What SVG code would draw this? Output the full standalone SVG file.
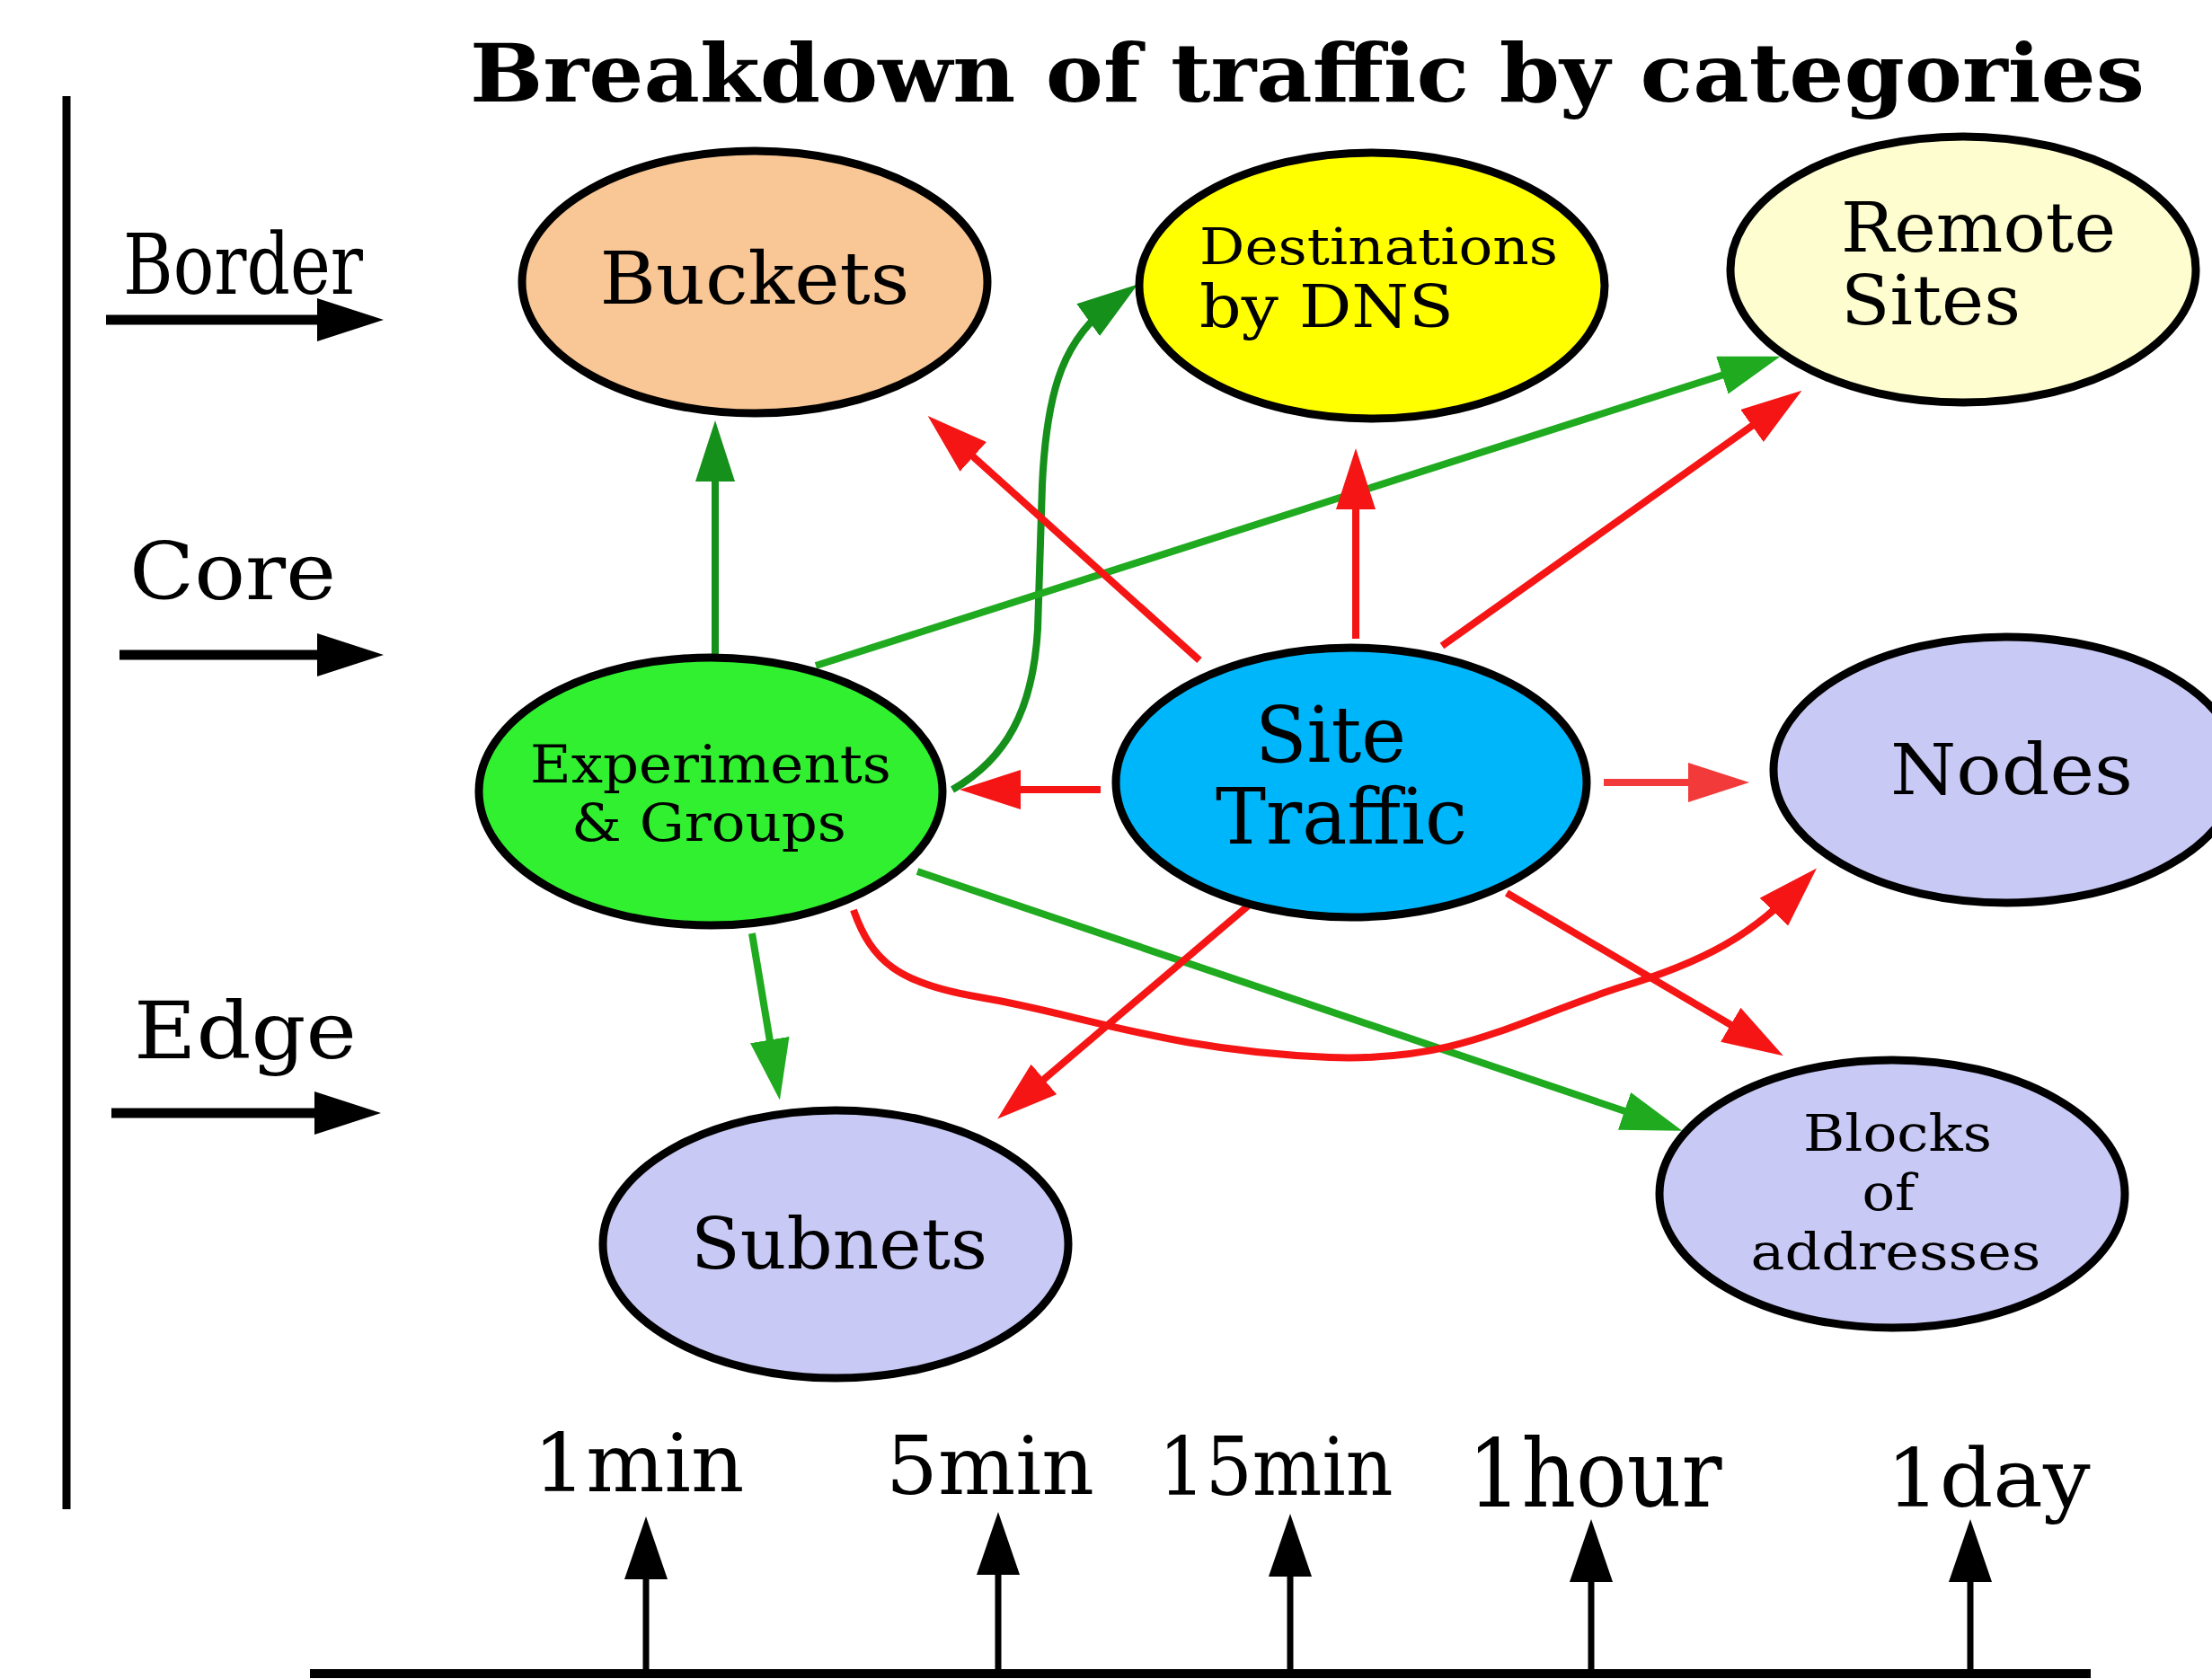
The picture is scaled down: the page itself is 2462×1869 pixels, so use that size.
<svg xmlns="http://www.w3.org/2000/svg" width="2462" height="1869" viewBox="0 0 2462 1869">
<style>
.t{font-family:"DejaVu Serif","Liberation Serif",serif;fill:#000}
.node{stroke:#000;stroke-width:9}
.red{fill:none;stroke:#f51515;stroke-width:8}
.grn{fill:none;stroke:#1faa1f;stroke-width:8}
.dgrn{fill:none;stroke:#15901a;stroke-width:8}
.blk{fill:none;stroke:#000}
</style>
<defs>
<marker id="mr" markerUnits="userSpaceOnUse" viewBox="0 0 68 44" markerWidth="68" markerHeight="44" refX="38" refY="22" orient="auto"><path d="M0,0 L68,22 L0,44 z" fill="#f51515"/></marker>
<marker id="mrl" markerUnits="userSpaceOnUse" viewBox="0 0 68 44" markerWidth="68" markerHeight="44" refX="38" refY="22" orient="auto"><path d="M0,0 L68,22 L0,44 z" fill="#f23a3a"/></marker>
<marker id="mg" markerUnits="userSpaceOnUse" viewBox="0 0 68 44" markerWidth="68" markerHeight="44" refX="38" refY="22" orient="auto"><path d="M0,0 L68,22 L0,44 z" fill="#1faa1f"/></marker>
<marker id="mdg" markerUnits="userSpaceOnUse" viewBox="0 0 68 44" markerWidth="68" markerHeight="44" refX="38" refY="22" orient="auto"><path d="M0,0 L68,22 L0,44 z" fill="#15901a"/></marker>
<marker id="mb" markerUnits="userSpaceOnUse" viewBox="0 0 74 48" markerWidth="74" markerHeight="48" refX="44" refY="24" orient="auto"><path d="M0,0 L74,24 L0,48 z" fill="#000"/></marker>
<marker id="mt" markerUnits="userSpaceOnUse" viewBox="0 0 70 48" markerWidth="70" markerHeight="48" refX="40" refY="24" orient="auto"><path d="M0,0 L70,24 L0,48 z" fill="#000"/></marker>
</defs>
<rect width="2462" height="1869" fill="#fff"/>

<g id="title">
<text class="t" x="523" y="113" font-size="90" font-weight="bold" textLength="1864" lengthAdjust="spacingAndGlyphs">Breakdown of traffic by categories</text>
</g>

<g id="levels">
<line class="blk" x1="74" y1="107" x2="74" y2="1680" stroke-width="9"/>
<text class="t" x="137" y="327" font-size="94" textLength="267" lengthAdjust="spacingAndGlyphs">Border</text>
<line class="blk" x1="118" y1="356" x2="397" y2="356" stroke-width="11" marker-end="url(#mb)"/>
<text class="t" x="144" y="667" font-size="88" textLength="230" lengthAdjust="spacingAndGlyphs">Core</text>
<line class="blk" x1="133" y1="729" x2="397" y2="729" stroke-width="11" marker-end="url(#mb)"/>
<text class="t" x="149" y="1178" font-size="88" textLength="248" lengthAdjust="spacingAndGlyphs">Edge</text>
<line class="blk" x1="124" y1="1239" x2="394" y2="1239" stroke-width="11" marker-end="url(#mb)"/>
</g>

<g id="connectors">
<line class="dgrn" x1="796" y1="730" x2="796" y2="498" marker-end="url(#mdg)"/>
<path class="dgrn" d="M1060 879 C1120 845,1150 790,1155 700 L1160 540 C1165 430,1185 375,1242 334" marker-end="url(#mdg)"/>
<line class="grn" x1="908" y1="741" x2="1953" y2="406" marker-end="url(#mg)"/>
<line class="grn" x1="837" y1="1039" x2="863" y2="1195" marker-end="url(#mg)"/>
<line class="grn" x1="1021" y1="970" x2="1844" y2="1249" marker-end="url(#mg)"/>
<line class="red" x1="1225" y1="879" x2="1098" y2="879" marker-end="url(#mr)"/>
<line class="red" x1="1335" y1="735" x2="1055" y2="483" marker-end="url(#mr)"/>
<line class="red" x1="1509" y1="711" x2="1509" y2="529" marker-end="url(#mr)"/>
<line class="red" x1="1605" y1="719" x2="1981" y2="452" marker-end="url(#mr)"/>
<line class="red" x1="1785" y1="871" x2="1917" y2="871" marker-end="url(#mrl)" style="stroke:#f23a3a"/>
<line class="red" x1="1393" y1="1005" x2="1133" y2="1226" marker-end="url(#mr)"/>
<line class="red" x1="1677" y1="994" x2="1959" y2="1160" marker-end="url(#mr)"/>
<path class="red" d="M950 1013 C970 1070,1000 1095,1090 1110 C1200 1128,1300 1170,1480 1177 C1620 1182,1680 1140,1800 1100 C1900 1070,1950 1040,2001 988" marker-end="url(#mr)"/>
</g>

<g id="buckets">
<ellipse class="node" cx="840" cy="314" rx="259" ry="146" fill="#f9c795"/>
<text class="t" x="840" y="338" font-size="80" text-anchor="middle" textLength="345" lengthAdjust="spacingAndGlyphs">Buckets</text>
</g>
<g id="dns">
<ellipse class="node" cx="1527" cy="318" rx="259" ry="148" fill="#ffff00"/>
<text class="t" x="1335" y="294" font-size="56" textLength="399" lengthAdjust="spacingAndGlyphs">Destinations</text>
<text class="t" x="1335" y="364" font-size="66" textLength="283" lengthAdjust="spacingAndGlyphs">by DNS</text>
</g>
<g id="remote">
<ellipse class="node" cx="2185" cy="300" rx="259" ry="148" fill="#fdfdd0"/>
<text class="t" x="2049" y="280" font-size="76" textLength="306" lengthAdjust="spacingAndGlyphs">Remote</text>
<text class="t" x="2049" y="361" font-size="76" textLength="200" lengthAdjust="spacingAndGlyphs">Sites</text>
</g>
<g id="experiments">
<ellipse class="node" cx="791" cy="881" rx="258" ry="149" fill="#30f030"/>
<text class="t" x="791" y="871" font-size="58" text-anchor="middle" textLength="402" lengthAdjust="spacingAndGlyphs">Experiments</text>
<text class="t" x="789" y="936" font-size="58" text-anchor="middle" textLength="306" lengthAdjust="spacingAndGlyphs">&amp; Groups</text>
</g>
<g id="site">
<ellipse class="node" cx="1504" cy="871" rx="262" ry="150" fill="#00b6fa" stroke-width="12"/>
<text class="t" x="1481" y="848" font-size="86" text-anchor="middle" textLength="168" lengthAdjust="spacingAndGlyphs">Site</text>
<text class="t" x="1493" y="939" font-size="86" text-anchor="middle" textLength="280" lengthAdjust="spacingAndGlyphs">Traffic</text>
</g>
<g id="nodes">
<ellipse class="node" cx="2233" cy="857" rx="259" ry="148" fill="#c9c9f6"/>
<text class="t" x="2239" y="884" font-size="78" text-anchor="middle" textLength="270" lengthAdjust="spacingAndGlyphs">Nodes</text>
</g>
<g id="subnets">
<ellipse class="node" cx="930" cy="1385" rx="259" ry="149" fill="#c9c9f6"/>
<text class="t" x="934" y="1412" font-size="78" text-anchor="middle" textLength="330" lengthAdjust="spacingAndGlyphs">Subnets</text>
</g>
<g id="blocks">
<ellipse class="node" cx="2106" cy="1329" rx="259" ry="149" fill="#c9c9f6"/>
<text class="t" x="2112" y="1281" font-size="56" text-anchor="middle" textLength="210" lengthAdjust="spacingAndGlyphs">Blocks</text>
<text class="t" x="2102" y="1347" font-size="56" text-anchor="middle" textLength="59" lengthAdjust="spacingAndGlyphs">of</text>
<text class="t" x="2110" y="1413" font-size="56" text-anchor="middle" textLength="323" lengthAdjust="spacingAndGlyphs">addresses</text>
</g>

<g id="timeline">
<line class="blk" x1="345" y1="1863" x2="2327" y2="1863" stroke-width="10"/>
<line class="blk" x1="719" y1="1863" x2="719" y2="1718" stroke-width="7" marker-end="url(#mt)"/>
<line class="blk" x1="1111" y1="1863" x2="1111" y2="1713" stroke-width="7" marker-end="url(#mt)"/>
<line class="blk" x1="1436" y1="1863" x2="1436" y2="1715" stroke-width="7" marker-end="url(#mt)"/>
<line class="blk" x1="1771" y1="1858" x2="1771" y2="1721" stroke-width="7" marker-end="url(#mt)"/>
<line class="blk" x1="2193" y1="1863" x2="2193" y2="1721" stroke-width="7" marker-end="url(#mt)"/>
<text class="t" x="711" y="1660" font-size="90" text-anchor="middle" textLength="235" lengthAdjust="spacingAndGlyphs">1min</text>
<text class="t" x="1102" y="1663" font-size="90" text-anchor="middle" textLength="232" lengthAdjust="spacingAndGlyphs">5min</text>
<text class="t" x="1420" y="1664" font-size="90" text-anchor="middle" textLength="261" lengthAdjust="spacingAndGlyphs">15min</text>
<text class="t" x="1775" y="1677" font-size="104" text-anchor="middle" textLength="283" lengthAdjust="spacingAndGlyphs">1hour</text>
<text class="t" x="2213" y="1677" font-size="90" text-anchor="middle" textLength="227" lengthAdjust="spacingAndGlyphs">1day</text>
</g>
</svg>
